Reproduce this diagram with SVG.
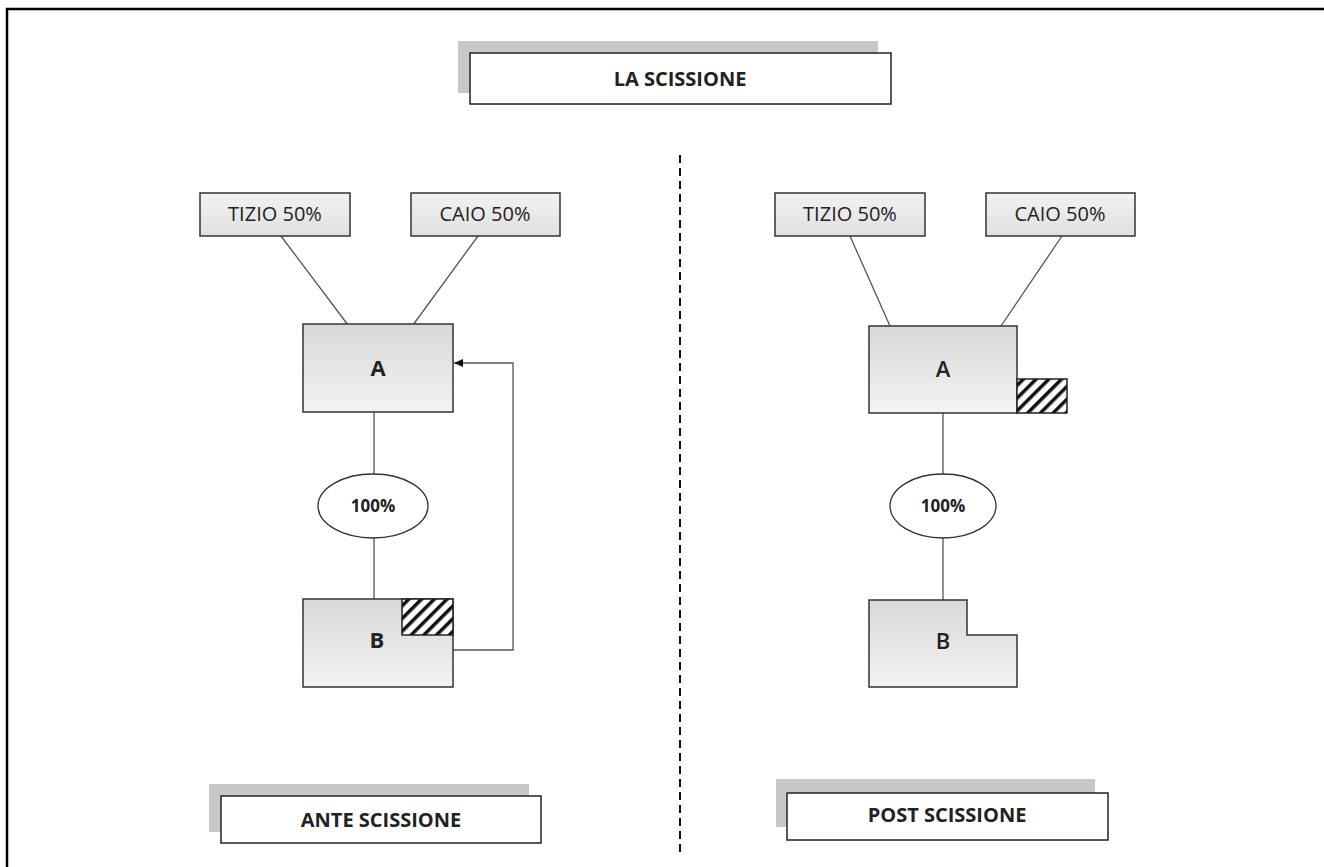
<svg xmlns="http://www.w3.org/2000/svg" width="1324" height="867" viewBox="0 0 1324 867">
<style>
.lbl{font-family:"Open Sans","Liberation Sans",sans-serif;font-size:20px;fill:#222;text-anchor:middle}
.b{font-weight:bold}
.big{font-size:22px}
.semi{font-weight:600}
.pct{font-size:17px;font-weight:bold}
.box{stroke:#333;stroke-width:1.5}
.conn{stroke:#555;stroke-width:1.3;fill:none}
.shadow{fill:#c8c8c8}
.plain{fill:#fff;stroke:#222;stroke-width:1.5}
</style>
<defs>
<linearGradient id="g" x1="0" y1="0" x2="0" y2="1">
<stop offset="0" stop-color="#d8d8d8"/>
<stop offset="1" stop-color="#f3f3f3"/>
</linearGradient>
<linearGradient id="g2" x1="0" y1="0" x2="0" y2="1">
<stop offset="0" stop-color="#f2f2f2"/>
<stop offset="1" stop-color="#e0e0e0"/>
</linearGradient>
<pattern id="hatch" width="9" height="9" patternUnits="userSpaceOnUse" patternTransform="rotate(45)">
<rect width="9" height="9" fill="#fff"/>
<rect width="3.5" height="9" fill="#111"/>
</pattern>
<marker id="arr" markerWidth="10" markerHeight="10" refX="9" refY="5" orient="auto" markerUnits="userSpaceOnUse">
<path d="M0,1 L9,5 L0,9 Z" fill="#111"/>
</marker>
</defs>
<rect width="1324" height="867" fill="#fff"/>
<path d="M7,867 V9 H1324" fill="none" stroke="#000" stroke-width="2.5"/>
<line x1="680" y1="155" x2="680" y2="857" stroke="#111" stroke-width="2" stroke-dasharray="8,5"/>

<g id="title">
<rect class="shadow" x="458" y="41" width="420" height="52"/>
<rect class="plain" x="470" y="53" width="421" height="51"/>
<text class="lbl b" x="680" y="86">LA SCISSIONE</text>
</g>

<g id="connectors">
<line class="conn" x1="281" y1="236" x2="348" y2="325"/>
<line class="conn" x1="478" y1="236" x2="413" y2="325"/>
<line class="conn" x1="374" y1="412" x2="374" y2="475"/>
<line class="conn" x1="374" y1="538" x2="374" y2="599"/>
<polyline class="conn" points="453,650 513,650 513,363 454,363" marker-end="url(#arr)"/>
<line class="conn" x1="850" y1="236" x2="890" y2="326"/>
<line class="conn" x1="1062" y1="236" x2="1001" y2="326"/>
<line class="conn" x1="943" y1="413" x2="943" y2="475"/>
<line class="conn" x1="943" y1="538" x2="943" y2="600"/>
</g>

<g id="tizio-ante">
<rect class="box" x="200" y="193" width="150" height="43" fill="url(#g2)"/>
<text class="lbl" x="275" y="221">TIZIO 50%</text>
</g>
<g id="caio-ante">
<rect class="box" x="411" y="193" width="149" height="43" fill="url(#g2)"/>
<text class="lbl" x="485" y="221">CAIO 50%</text>
</g>
<g id="a-ante">
<rect class="box" x="303" y="324" width="150" height="88" fill="url(#g)"/>
<text class="lbl b big" x="378" y="376">A</text>
</g>
<g id="pct-ante">
<ellipse cx="373" cy="506" rx="55" ry="32" fill="#fff" stroke="#333" stroke-width="1.3"/>
<text class="lbl pct" x="373" y="512">100%</text>
</g>
<g id="b-ante">
<rect class="box" x="303" y="599" width="150" height="88" fill="url(#g)"/>
<rect x="402" y="599" width="51" height="36" fill="url(#hatch)" stroke="#222" stroke-width="1.5"/>
<text class="lbl b big" x="377" y="648">B</text>
</g>

<g id="tizio-post">
<rect class="box" x="775" y="193" width="150" height="43" fill="url(#g2)"/>
<text class="lbl" x="850" y="221">TIZIO 50%</text>
</g>
<g id="caio-post">
<rect class="box" x="986" y="193" width="149" height="43" fill="url(#g2)"/>
<text class="lbl" x="1060" y="221">CAIO 50%</text>
</g>
<g id="a-post">
<rect class="box" x="869" y="326" width="148" height="87" fill="url(#g)"/>
<rect x="1017" y="379" width="50" height="34" fill="url(#hatch)" stroke="#222" stroke-width="1.5"/>
<text class="lbl big semi" x="943" y="377">A</text>
</g>
<g id="pct-post">
<ellipse cx="943" cy="506" rx="53" ry="32" fill="#fff" stroke="#333" stroke-width="1.3"/>
<text class="lbl pct" x="943" y="512">100%</text>
</g>
<g id="b-post">
<path class="box" d="M869,600 H967 V635 H1017 V687 H869 Z" fill="url(#g)"/>
<text class="lbl big semi" x="943" y="649">B</text>
</g>

<g id="ante">
<rect class="shadow" x="209" y="784" width="320" height="48"/>
<rect class="plain" x="221" y="796" width="320" height="47"/>
<text class="lbl b" x="381" y="827">ANTE SCISSIONE</text>
</g>
<g id="post">
<rect class="shadow" x="776" y="779" width="319" height="48"/>
<rect class="plain" x="787" y="793" width="321" height="47"/>
<text class="lbl b" x="947" y="822">POST SCISSIONE</text>
</g>
</svg>
